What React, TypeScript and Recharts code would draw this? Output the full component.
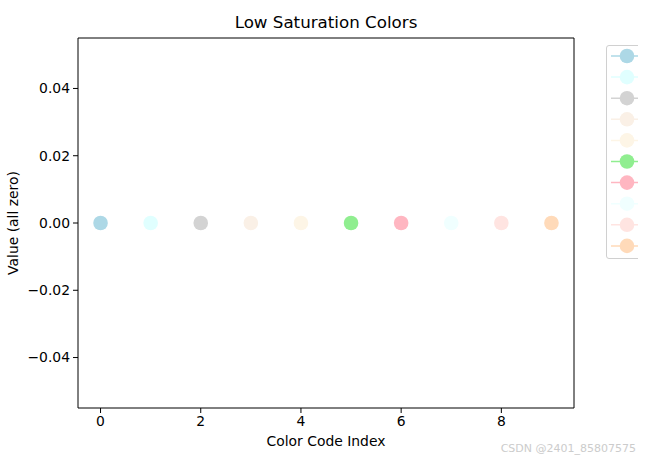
import React from 'react';
import { ComposedChart, Scatter, XAxis, YAxis, ReferenceArea } from 'recharts';

// colour names and hex codes (matplotlib named colours)
const COLOR_NAMES = ['lightblue', 'lightcyan', 'lightgray', 'linen', 'oldlace', 'lightgreen', 'lightpink', 'azure', 'mistyrose', 'peachpuff'];
const COLOR_CODES = ['#ADD8E6', '#E0FFFF', '#D3D3D3', '#FAF0E6', '#FDF5E6', '#90EE90', '#FFB6C1', '#F0FFFF', '#FFE4E1', '#FFDAB9'];
const X_INDEX = [0, 1, 2, 3, 4, 5, 6, 7, 8, 9];
const Y_VALUES = [0, 0, 0, 0, 0, 0, 0, 0, 0, 0];
const X_TICKS = [0, 2, 4, 6, 8];
const Y_TICKS = [-0.04, -0.02, 0, 0.02, 0.04];

const FONT = '"DejaVu Sans", sans-serif';
const W = 656;
const H = 461;

const fmtY = (v: number) => {
  const s = Math.abs(v).toFixed(2);
  return v < 0 ? '\u2212' + s : s;
};

export default function App() {
  return (
    <div style={{ position: 'absolute', left: 0, top: 0, width: W, height: H, background: '#fff', fontFamily: FONT, overflow: 'hidden' }}>
      <ComposedChart width={W} height={H} margin={{ top: 38, right: 82, bottom: 0, left: 0 }}>
        <XAxis
          type="number"
          dataKey="x"
          domain={[-0.45, 9.45]}
          ticks={X_TICKS}
          allowDataOverflow
          height={53}
          tickSize={5}
          tickMargin={3}
          stroke="#000"
          tick={{ fill: '#000', fontSize: 13.9, fontFamily: FONT }}
          axisLine={false}
        />
        <YAxis
          type="number"
          dataKey="y"
          domain={[-0.055, 0.055]}
          ticks={Y_TICKS}
          allowDataOverflow
          width={78}
          tickSize={5}
          tickMargin={3}
          stroke="#000"
          tickFormatter={fmtY}
          tick={{ fill: '#000', fontSize: 13.9, fontFamily: FONT }}
          axisLine={false}
        />
        <ReferenceArea x1={-0.45} x2={9.45} y1={-0.055} y2={0.055} fill="none" stroke="#000" strokeWidth={1} ifOverflow="visible" />
        {X_INDEX.map((xi, i) => (
          <Scatter
            key={COLOR_NAMES[i]}
            name={COLOR_NAMES[i]}
            data={[{ x: xi, y: Y_VALUES[i] }]}
            fill={COLOR_CODES[i]}
            isAnimationActive={false}
            shape={(p: any) => <circle cx={p.cx} cy={p.cy} r={7.3} fill={COLOR_CODES[i]} />}
          />
        ))}
        <text x={326} y={28} textAnchor="middle" fontSize={16.7} fontFamily={FONT} fill="#000">Low Saturation Colors</text>
        <text x={326} y={446} textAnchor="middle" fontSize={13.9} fontFamily={FONT} fill="#000">Color Code Index</text>
        <text x={18} y={223} textAnchor="middle" fontSize={13.9} fontFamily={FONT} fill="#000" transform="rotate(-90 18 223)">Value (all zero)</text>
        <text x={636} y={452} textAnchor="end" fontSize={11} fontFamily={FONT} fill="#cccccc">CSDN @2401_85807575</text>
      </ComposedChart>
      {/* legend, clipped at the figure edge like the original */}
      <div style={{ position: 'absolute', left: 0, top: 0, width: 638, height: H, overflow: 'hidden', pointerEvents: 'none' }}>
        <div style={{ position: 'absolute', left: 606, top: 45, width: 80, height: 212, border: '1px solid #d0d0d0', borderRadius: 3, background: 'rgba(255,255,255,0.8)' }}>
          <svg width={80} height={212} style={{ position: 'absolute', left: 0, top: 0 }}>
            {COLOR_CODES.map((c, i) => {
              const cy = 10 + i * 21.1;
              return (
                <g key={c + i}>
                  <line x1={4} x2={60} y1={cy} y2={cy} stroke={c} strokeWidth={1.5} />
                  <circle cx={20} cy={cy} r={7.3} fill={c} />
                </g>
              );
            })}
          </svg>
        </div>
      </div>
    </div>
  );
}
